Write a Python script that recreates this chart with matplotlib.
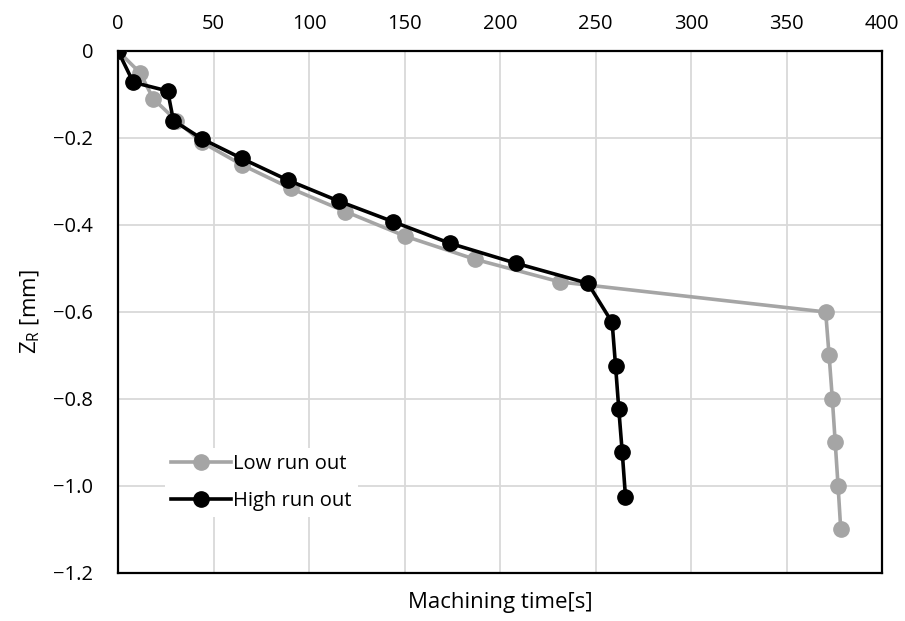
import numpy as np
import matplotlib.pyplot as plt

# machining time [s] and depth Z_R [mm]
low_time = [0, 11.5, 18.5, 30.5, 44, 65, 90.5, 119, 150.5, 187, 231.5, 370.5, 372.3, 374, 375.5, 377, 378.4]
low_z = [0, -0.05, -0.11, -0.16, -0.21, -0.262, -0.316, -0.369, -0.426, -0.479, -0.531, -0.6, -0.7, -0.8, -0.9, -1.0, -1.1]

high_time = [0, 8, 26, 29, 44, 64.8, 89, 115.5, 143.8, 173.7, 208.4, 246, 258.7, 260.5, 262.2, 264, 265.7]
high_z = [0, -0.072, -0.092, -0.16, -0.202, -0.247, -0.297, -0.345, -0.392, -0.442, -0.488, -0.534, -0.624, -0.724, -0.824, -0.923, -1.025]

xticks = [0, 50, 100, 150, 200, 250, 300, 350, 400]
yticks = [0, -0.2, -0.4, -0.6, -0.8, -1.0, -1.2]
ytick_labels = ['0', '\u22120.2', '\u22120.4', '\u22120.6', '\u22120.8', '\u22121.0', '\u22121.2']

plt.rcParams['font.family'] = ['Open Sans', 'DejaVu Sans']

fig = plt.figure(figsize=(9.05, 6.21), dpi=100)
ax = fig.add_axes([0.1304, 0.0773, 0.8442, 0.8406])

ax.plot(low_time, low_z, color='#A5A5A5', lw=2.6, marker='o', ms=11, label='Low run out', zorder=3)
ax.plot(high_time, high_z, color='black', lw=2.6, marker='o', ms=11, label='High run out', zorder=4)

ax.set_xlim(0, 400)
ax.set_ylim(-1.2, 0)
ax.set_xticks(xticks)
ax.set_yticks(yticks)
ax.set_yticklabels(ytick_labels)
ax.xaxis.tick_top()
ax.tick_params(length=0, labelsize=14.5)
ax.tick_params(axis='x', pad=12)
ax.tick_params(axis='y', pad=18)
ax.grid(color='#D9D9D9', lw=1.3)
ax.set_axisbelow(True)
for s in ax.spines.values():
    s.set_linewidth(1.6)
    s.set_color('black')

ax.set_xlabel('Machining time[s]', fontsize=16, labelpad=14)
ax.set_ylabel(r'Z$_\mathregular{R}$ [mm]', fontsize=16, labelpad=8)

leg = ax.legend(loc='lower left', bbox_to_anchor=(0.048, 0.088), fontsize=14.5,
                frameon=True, fancybox=False, edgecolor='none', framealpha=1,
                handlelength=3.0, borderpad=0.3, labelspacing=0.85, handletextpad=0.1)

plt.savefig('out.png', dpi=100)
